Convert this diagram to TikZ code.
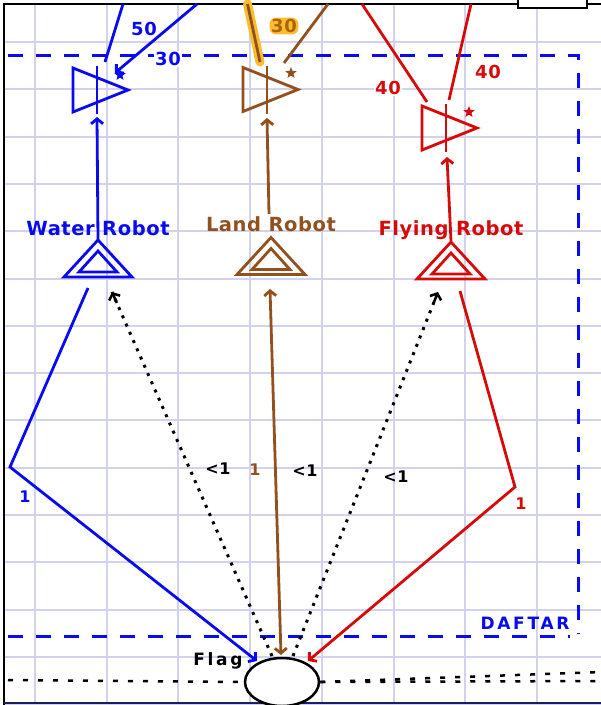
\documentclass[tikz,border=0pt]{standalone}
\usepackage{fontspec}
\newfontfamily\lblfont[LetterSpace=3]{DejaVu Sans Bold}
\newfontfamily\widefont[LetterSpace=16]{DejaVu Sans Bold}
\usetikzlibrary{arrows.meta,shapes.geometric,calc}
\definecolor{wblue}{RGB}{10,10,240}
\definecolor{lbrown}{RGB}{145,80,30}
\definecolor{fred}{RGB}{215,10,10}
\definecolor{gridc}{RGB}{210,210,236}
\definecolor{glow}{RGB}{250,190,45}
\definecolor{glowtxt}{RGB}{170,100,10}
\definecolor{navy}{RGB}{30,30,90}
\begin{document}
\begin{tikzpicture}[x=1pt,y=-1pt,
  robotlbl/.style={font=\lblfont\fontsize{19.5}{21}\selectfont, inner sep=0pt},
  numlbl/.style={font=\lblfont\fontsize{18}{20}\selectfont, fill=white, inner sep=1pt},
  smalllbl/.style={font=\lblfont\fontsize{16}{18}\selectfont, inner sep=1pt},
  widelbl/.style={font=\widefont\fontsize{17}{19}\selectfont, inner sep=1pt},
  barb/.style={-{Straight Barb[length=5pt,width=12pt]}},
  dbarb/.style={{Straight Barb[length=5pt,width=12pt]}-{Straight Barb[length=5pt,width=12pt]}},
  conn/.style={line width=2.8pt},
  dotconn/.style={line width=3pt, black, dash pattern=on 3pt off 6pt},
  floor/.style={line width=2.5pt, black, dash pattern=on 5pt off 10pt},
  amp/.pic={\draw[line width=2.8pt] (0,-22) -- (55,0) -- (0,22) -- cycle;
            \draw[line width=2.8pt] (24,-24) -- (24,24);},
  dbltri/.pic={\draw[line width=2.8pt] (0,0) -- (34,37) -- (-34,37) -- cycle;
               \draw[line width=2.8pt] (0,11) -- (19,32) -- (-19,32) -- cycle;},
  starmark/.style={star, star points=5, star point ratio=2.3, minimum size=12pt, inner sep=0pt}
]
\useasboundingbox (0,0) rectangle (601,705);
\fill[white] (0,0) rectangle (601,705);
% grid
\foreach \i in {0,...,7} \draw[gridc, line width=2pt] ({35+71.7*\i},4) -- ({35+71.7*\i},705);
\foreach \j in {0,...,14} \draw[gridc, line width=2pt] (4,{42+47.3*\j}) -- (601,{42+47.3*\j});
% frame
\draw[line width=2pt] (4,705) -- (4,4) -- (601,4);
\draw[line width=2pt, navy] (4,703) -- (601,703);
\draw[line width=2.5pt, fill=white] (518,-6) rectangle (587,8);
% DAFTAR dashed box
\draw[wblue, line width=3pt, dash pattern=on 15pt off 13pt] (8,55) -- (578,55) -- (578,634);
\draw[wblue, line width=3pt, dash pattern=on 15pt off 13pt] (8,636) -- (570,636);
\node[widelbl, text=wblue] (daftar) at (525,623) {DAFTAR};

% top symbols
\pic[wblue] at (73,90) {amp};
\pic[lbrown] at (243,89.5) {amp};
\pic[fred] at (422,128) {amp};
\node[starmark, fill=wblue] (wstar) at (120,75) {};
\node[starmark, fill=lbrown] (lstar) at (291,73) {};
\node[starmark, fill=fred] (fstar) at (469,112) {};

% robots
\pic[wblue] at (98,240) {dbltri};
\pic[lbrown] at (271,237.5) {dbltri};
\pic[fred] at (451,242) {dbltri};
\node[robotlbl, text=wblue] (water) at (98,228) {Water Robot};
\node[robotlbl, text=lbrown] (land) at (271,224) {Land Robot};
\node[robotlbl, text=fred] (flying) at (451,230) {Flying Robot};

% coordinates
\coordinate (wapex) at (98,240);
\coordinate (wamp) at (97,117);
\coordinate (lapex) at (269,214);
\coordinate (lamp) at (267,118);
\coordinate (fapex) at (451,241);
\coordinate (famp) at (447,157);
\coordinate (wtopA) at (123,4);
\coordinate (wendA) at (105,62);
\coordinate (wtopB) at (197,4);
\coordinate (wendB) at (115,73);
\coordinate (ltopA) at (247.5,4);
\coordinate (lendA) at (260,62);
\coordinate (ltopB) at (328,4);
\coordinate (lendB) at (284,63);
\coordinate (ftopA) at (362,4);
\coordinate (fendA) at (427,102);
\coordinate (ftopB) at (471,4);
\coordinate (fendB) at (449,100);
\coordinate (wbase) at (88,288);
\coordinate (wkink) at (10,467);
\coordinate (fbase) at (460,291);
\coordinate (fkink) at (515,487);
\coordinate (lbase) at (270,289);
\coordinate (wdot) at (112,292);
\coordinate (fdot) at (438,292);

% flag
\node[draw, line width=2.5pt, fill=white, ellipse, minimum width=74pt, minimum height=48pt, inner sep=0pt] (flag) at (282,682) {};
\coordinate (flagW) at (257,661);
\coordinate (flagF) at (308,661);
\coordinate (flagL) at (281,655);
\coordinate (flagDW) at (272,656);
\coordinate (flagDF) at (293,656);
\coordinate (floorL0) at (8,680);
\coordinate (floorR1) at (601,681);
\coordinate (floorR2) at (601,672);
\draw[floor] (floorL0) -- (flag.west);
\draw[floor] (flag.east) -- (floorR1);
\draw[floor] (flag.east) -- (floorR2);

% vertical connectors
\draw[conn, wblue, barb] (wapex) -- (wamp);
\draw[conn, lbrown, barb] (lapex) -- (lamp);
\draw[conn, fred, barb] (fapex) -- (famp);

% top incoming lines
\draw[conn, wblue] (wtopA) -- (wendA);
\draw[conn, wblue, barb] (wtopB) -- (wendB);
\draw[line width=9pt, glow, line cap=round] (ltopA) -- (lendA);
\draw[conn, lbrown] (ltopA) -- (lendA);
\draw[conn, lbrown] (ltopB) -- (lendB);
\draw[conn, fred] (ftopA) -- (fendA);
\draw[conn, fred] (ftopB) -- (fendB);

% bottom connectors
\draw[conn, wblue, barb] (wbase) -- (wkink) -- (flagW);
\draw[conn, fred, barb] (fbase) -- (fkink) -- (flagF);
\draw[conn, lbrown, dbarb] (flagL) -- (lbase);
\draw[dotconn] (flagDW) -- (wdot);
\draw[dotconn] (flagDF) -- (fdot);
\draw[line width=2.5pt, black, barb] ($(wdot)!0.03!(flagDW)$) -- (wdot);
\draw[line width=2.5pt, black, barb] ($(fdot)!0.03!(flagDF)$) -- (fdot);

% labels
\node[numlbl, text=wblue, fill=none] (l50) at (144,29) {50};
\node[numlbl, text=wblue] (l30w) at (168,59) {30};
\node[numlbl, fill=glow, rounded corners=6pt, inner sep=1.5pt, text=glowtxt] (l30l) at (284,26) {30};
\node[numlbl, text=fred] (l40a) at (388,88) {40};
\node[numlbl, text=fred, fill=none] (l40b) at (488,72) {40};
\node[smalllbl, text=wblue] (w1) at (25,497) {1};
\node[smalllbl, text=black] (wlt) at (218,469) {<1};
\node[smalllbl, text=lbrown] (l1) at (255,470) {1};
\node[smalllbl, text=black] (llt) at (305,471) {<1};
\node[smalllbl, text=black] (flt) at (396,477) {<1};
\node[smalllbl, text=fred] (f1) at (521,504) {1};
\node[widelbl, text=black] (flaglbl) at (218,661) {Flag};
\end{tikzpicture}
\end{document}
